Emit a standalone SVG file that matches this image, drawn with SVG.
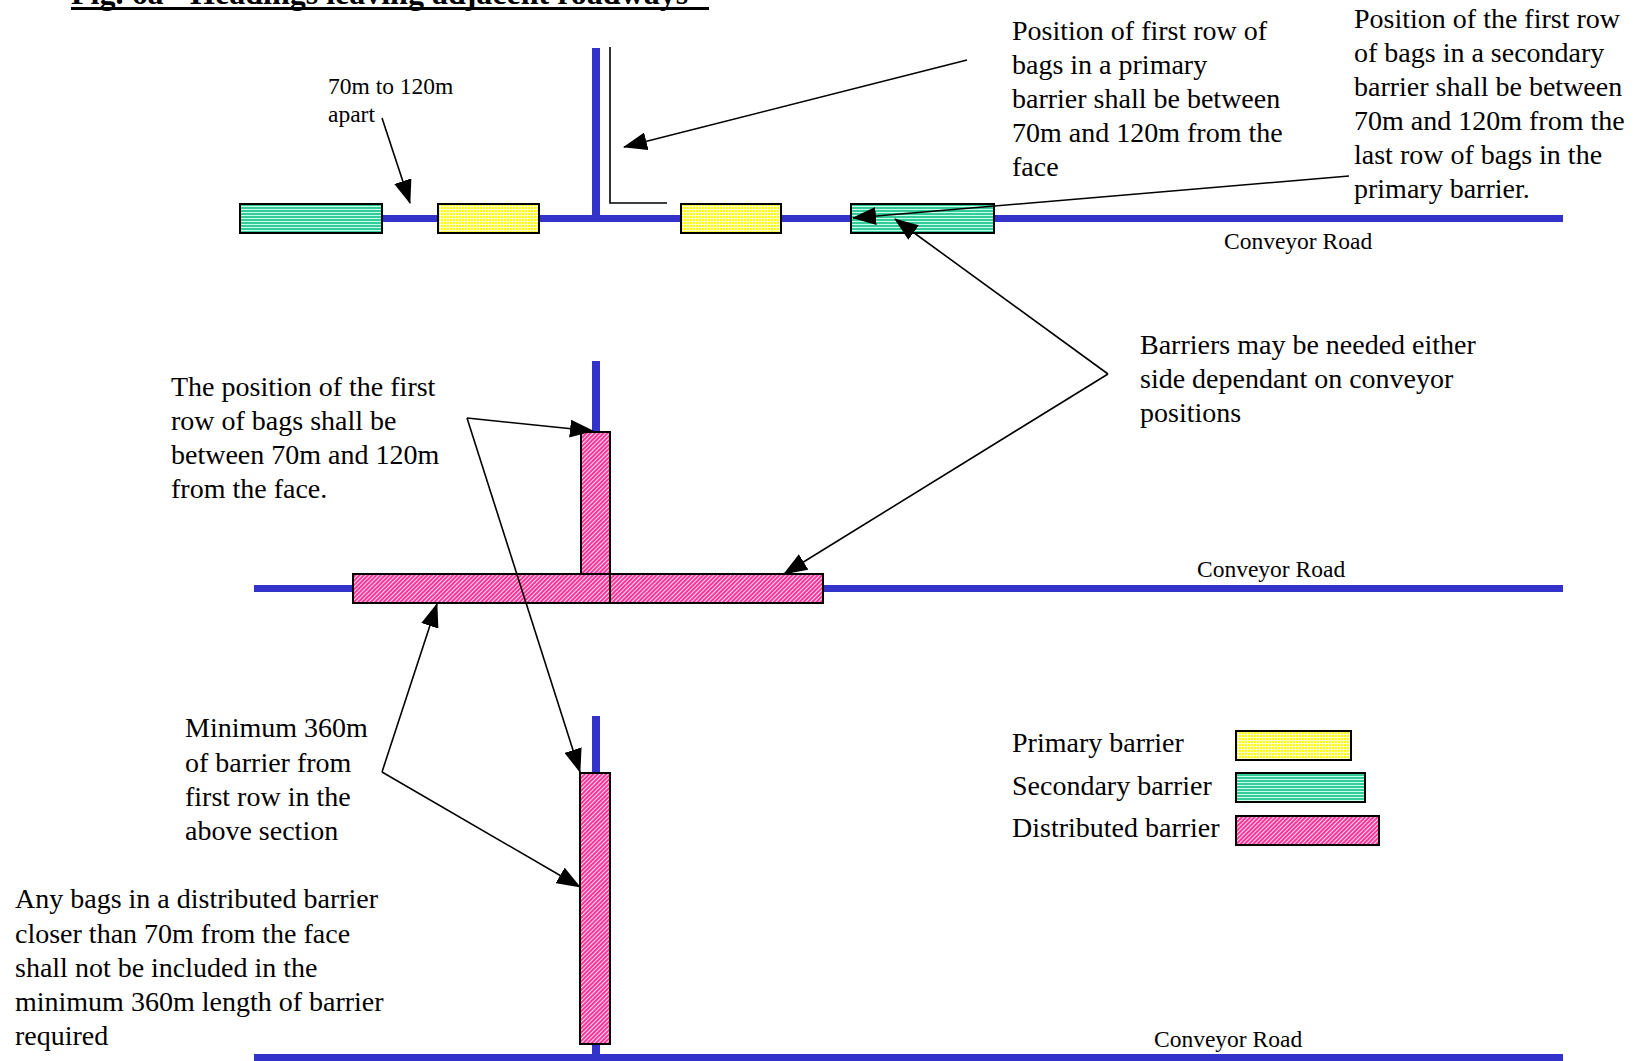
<svg xmlns="http://www.w3.org/2000/svg" width="1634" height="1061" viewBox="0 0 1634 1061">
<defs>
<pattern id="pYellow" patternUnits="userSpaceOnUse" width="3" height="3">
<rect width="3" height="3" fill="#FFFF00"/>
<rect x="2" width="1" height="3" fill="#FFFFC8"/>
<rect y="2" width="3" height="1" fill="#FFFFC8"/>
</pattern>
<pattern id="pGreen" patternUnits="userSpaceOnUse" width="4" height="3">
<rect width="4" height="3" fill="#33CC99"/>
<rect y="2" width="4" height="1" fill="#C8FFEE"/>
</pattern>
<pattern id="pPink" patternUnits="userSpaceOnUse" width="3" height="3" patternTransform="rotate(45)">
<rect width="3" height="3" fill="#FF3399"/>
<rect x="2" width="1" height="3" fill="#FFE0F0"/>
</pattern>
<marker id="ah" markerUnits="userSpaceOnUse" markerWidth="24" markerHeight="18" viewBox="0 0 24 18" refX="23" refY="9" orient="auto">
<path d="M0,0 L24,9 L0,18 Z" fill="#000"/>
</marker>
</defs>
<style>
.road{stroke:#3333CC;stroke-width:7;fill:none}
.roadv{stroke:#3333CC;stroke-width:8;fill:none}
.box{stroke:#000;stroke-width:2}
.prim{fill:url(#pYellow)}
.sec{fill:url(#pGreen)}
.dist{fill:url(#pPink)}
.arr{stroke:#000;stroke-width:1.6;fill:none}
.txt{font-family:"Liberation Serif","Times New Roman",serif;font-size:28px;fill:#000}
.sm{font-family:"Liberation Serif","Times New Roman",serif;font-size:23.5px;fill:#000}
.title{font-family:"Liberation Serif","Times New Roman",serif;font-size:32px;font-weight:bold;fill:#000}
</style>
<rect width="1634" height="1061" fill="#fff"/>

<g id="title">
<text class="title" x="71" y="4">Fig. 6a - Headings leaving adjacent roadways</text>
<rect x="71" y="7" width="638" height="3" fill="#000"/>
</g>

<g id="roads">
<line class="road" x1="240" y1="218.5" x2="1563" y2="218.5"/>
<line class="roadv" x1="596" y1="48" x2="596" y2="219"/>
<line class="road" x1="254" y1="588.5" x2="1563" y2="588.5"/>
<line class="roadv" x1="596" y1="361" x2="596" y2="432"/>
<line class="road" x1="254" y1="1057.5" x2="1563" y2="1057.5"/>
<line class="roadv" x1="596" y1="716" x2="596" y2="1058"/>
</g>

<g id="face-marker">
<polyline points="610,47 610,203 667,203" fill="none" stroke="#000" stroke-width="1.6"/>
</g>

<g id="top-barriers">
<rect class="box sec" x="240" y="204" width="142" height="29"/>
<rect class="box prim" x="438" y="204" width="101" height="29"/>
<rect class="box prim" x="681" y="204" width="100" height="29"/>
<rect class="box sec" x="851" y="204" width="143" height="29"/>
</g>

<g id="middle-barriers">
<rect class="box dist" x="581" y="432" width="29" height="142"/>
<rect class="box dist" x="353" y="574" width="257" height="29"/>
<rect class="box dist" x="610" y="574" width="213" height="29"/>
</g>

<g id="bottom-barrier">
<rect class="box dist" x="580" y="773" width="30" height="271"/>
</g>

<g id="connectors">
<line class="arr" x1="382" y1="118" x2="410" y2="203" marker-end="url(#ah)"/>
<line class="arr" x1="967" y1="60" x2="624" y2="147" marker-end="url(#ah)"/>
<line class="arr" x1="1349" y1="176" x2="853" y2="218" marker-end="url(#ah)"/>
<line class="arr" x1="1108" y1="374" x2="895" y2="219" marker-end="url(#ah)"/>
<line class="arr" x1="1108" y1="374" x2="784" y2="574" marker-end="url(#ah)"/>
<line class="arr" x1="467" y1="418" x2="593" y2="431" marker-end="url(#ah)"/>
<line class="arr" x1="467" y1="418" x2="580" y2="772" marker-end="url(#ah)"/>
<line class="arr" x1="382" y1="772" x2="437" y2="604" marker-end="url(#ah)"/>
<line class="arr" x1="382" y1="772" x2="580" y2="887" marker-end="url(#ah)"/>
</g>

<g id="label-apart">
<text class="sm" x="328" y="94">70m to 120m</text>
<text class="sm" x="328" y="122">apart</text>
</g>

<g id="label-primary">
<text class="txt" x="1012" y="40">Position of first row of</text>
<text class="txt" x="1012" y="74">bags in a primary</text>
<text class="txt" x="1012" y="108">barrier shall be between</text>
<text class="txt" x="1012" y="142">70m and 120m from the</text>
<text class="txt" x="1012" y="176">face</text>
</g>

<g id="label-secondary">
<text class="txt" x="1354" y="28">Position of the first row</text>
<text class="txt" x="1354" y="62">of bags in a secondary</text>
<text class="txt" x="1354" y="96">barrier shall be between</text>
<text class="txt" x="1354" y="130">70m and 120m from the</text>
<text class="txt" x="1354" y="164">last row of bags in the</text>
<text class="txt" x="1354" y="198">primary barrier.</text>
</g>

<g id="label-road1"><text class="sm" x="1224" y="249">Conveyor Road</text></g>
<g id="label-road2"><text class="sm" x="1197" y="577">Conveyor Road</text></g>
<g id="label-road3"><text class="sm" x="1154" y="1047">Conveyor Road</text></g>

<g id="label-either-side">
<text class="txt" x="1140" y="354">Barriers may be needed either</text>
<text class="txt" x="1140" y="388">side dependant on conveyor</text>
<text class="txt" x="1140" y="422">positions</text>
</g>

<g id="label-first-row">
<text class="txt" x="171" y="396">The position of the first</text>
<text class="txt" x="171" y="430">row of bags shall be</text>
<text class="txt" x="171" y="464">between 70m and 120m</text>
<text class="txt" x="171" y="498">from the face.</text>
</g>

<g id="label-minimum">
<text class="txt" x="185" y="737">Minimum 360m</text>
<text class="txt" x="185" y="772">of barrier from</text>
<text class="txt" x="185" y="806">first row in the</text>
<text class="txt" x="185" y="840">above section</text>
</g>

<g id="label-any-bags">
<text class="txt" x="15" y="908">Any bags in a distributed barrier</text>
<text class="txt" x="15" y="943">closer than 70m from the face</text>
<text class="txt" x="15" y="977">shall not be included in the</text>
<text class="txt" x="15" y="1011">minimum 360m length of barrier</text>
<text class="txt" x="15" y="1045">required</text>
</g>

<g id="legend">
<text class="txt" x="1012" y="752">Primary barrier</text>
<rect class="box prim" x="1236" y="731" width="115" height="29"/>
<text class="txt" x="1012" y="795">Secondary barrier</text>
<rect class="box sec" x="1236" y="773" width="129" height="29"/>
<text class="txt" x="1012" y="837">Distributed barrier</text>
<rect class="box dist" x="1236" y="816" width="143" height="29"/>
</g>
</svg>
